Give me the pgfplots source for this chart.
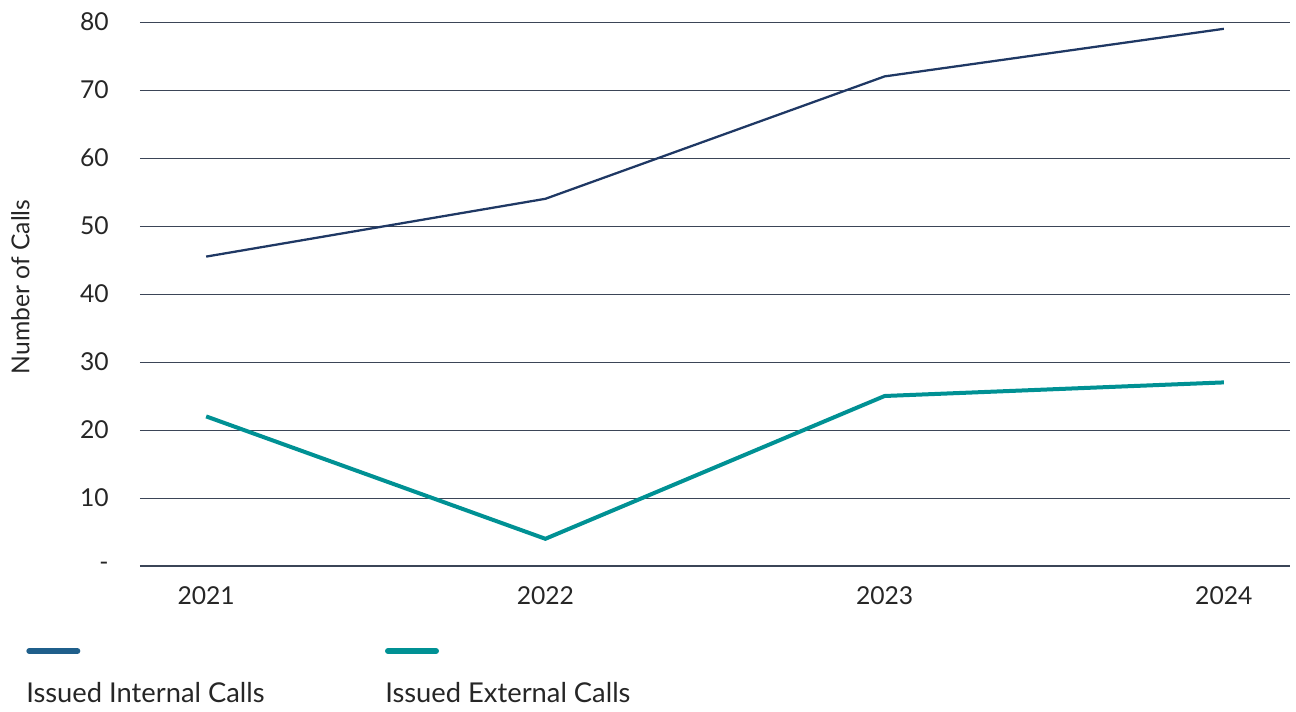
\documentclass[border=0pt]{standalone}
\usepackage{fontspec}
\setmainfont{Lato}
\usepackage{pgfplots}
\pgfplotsset{compat=1.18}

\definecolor{internal}{HTML}{1F3864}
\definecolor{internalkey}{HTML}{1F5F8B}
\definecolor{external}{HTML}{009194}
\definecolor{gridc}{HTML}{3B4557}
\definecolor{baseline}{HTML}{D9D9D9}

\begin{document}
\begin{tikzpicture}[x=1pt,y=1pt]
\useasboundingbox (-105,-108.75) rectangle (867,424.5);
\begin{axis}[
  at={(0,0)}, anchor=south west,
  scale only axis,
  width=862.5pt, height=408pt,
  xmin=-0.195, xmax=3.195,
  ymin=0, ymax=80,
  xtick={0,1,2,3},
  xticklabels={2021,2022,2023,2024},
  ytick={10,20,30,40,50,60,70,80},
  extra y ticks={0},
  extra y tick labels={-},
  extra y tick style={grid style={baseline, line width=1.5pt}},
  major tick length=0pt,
  axis line style={draw=none},
  ymajorgrids,
  grid style={gridc, line width=0.6pt},
  ticklabel style={font=\fontsize{18.5}{21}\selectfont, text=black!85},
  /pgf/number format/assume math mode=true,
  yticklabel style={xshift=-20pt},
  xticklabel style={yshift=-12pt},
  ylabel={Number of Calls},
  ylabel style={at={(axis description cs:-0.104,0.513)}, anchor=center,
    font=\fontsize{18.5}{21}\selectfont, text=black!85},
]
\addplot[internal, line width=1.7pt] coordinates {(0,45.5) (1,54) (2,72) (3,79)};
\addplot[external, line width=3pt] coordinates {(0,22) (1,4) (2,25) (3,27)};
\end{axis}
% key below the chart
\draw[internalkey, line width=4.5pt, line cap=round] (-83,-63.75) -- (-47,-63.75);
\draw[external, line width=4.5pt, line cap=round] (186,-63.75) -- (222,-63.75);
\node[anchor=west, inner sep=0pt, font=\fontsize{20.5}{23}\selectfont, text=black!85] at (-85.5,-95.25) {Issued Internal Calls};
\node[anchor=west, inner sep=0pt, font=\fontsize{20.5}{23}\selectfont, text=black!85] at (183.75,-95.25) {Issued External Calls};
\end{tikzpicture}
\end{document}
